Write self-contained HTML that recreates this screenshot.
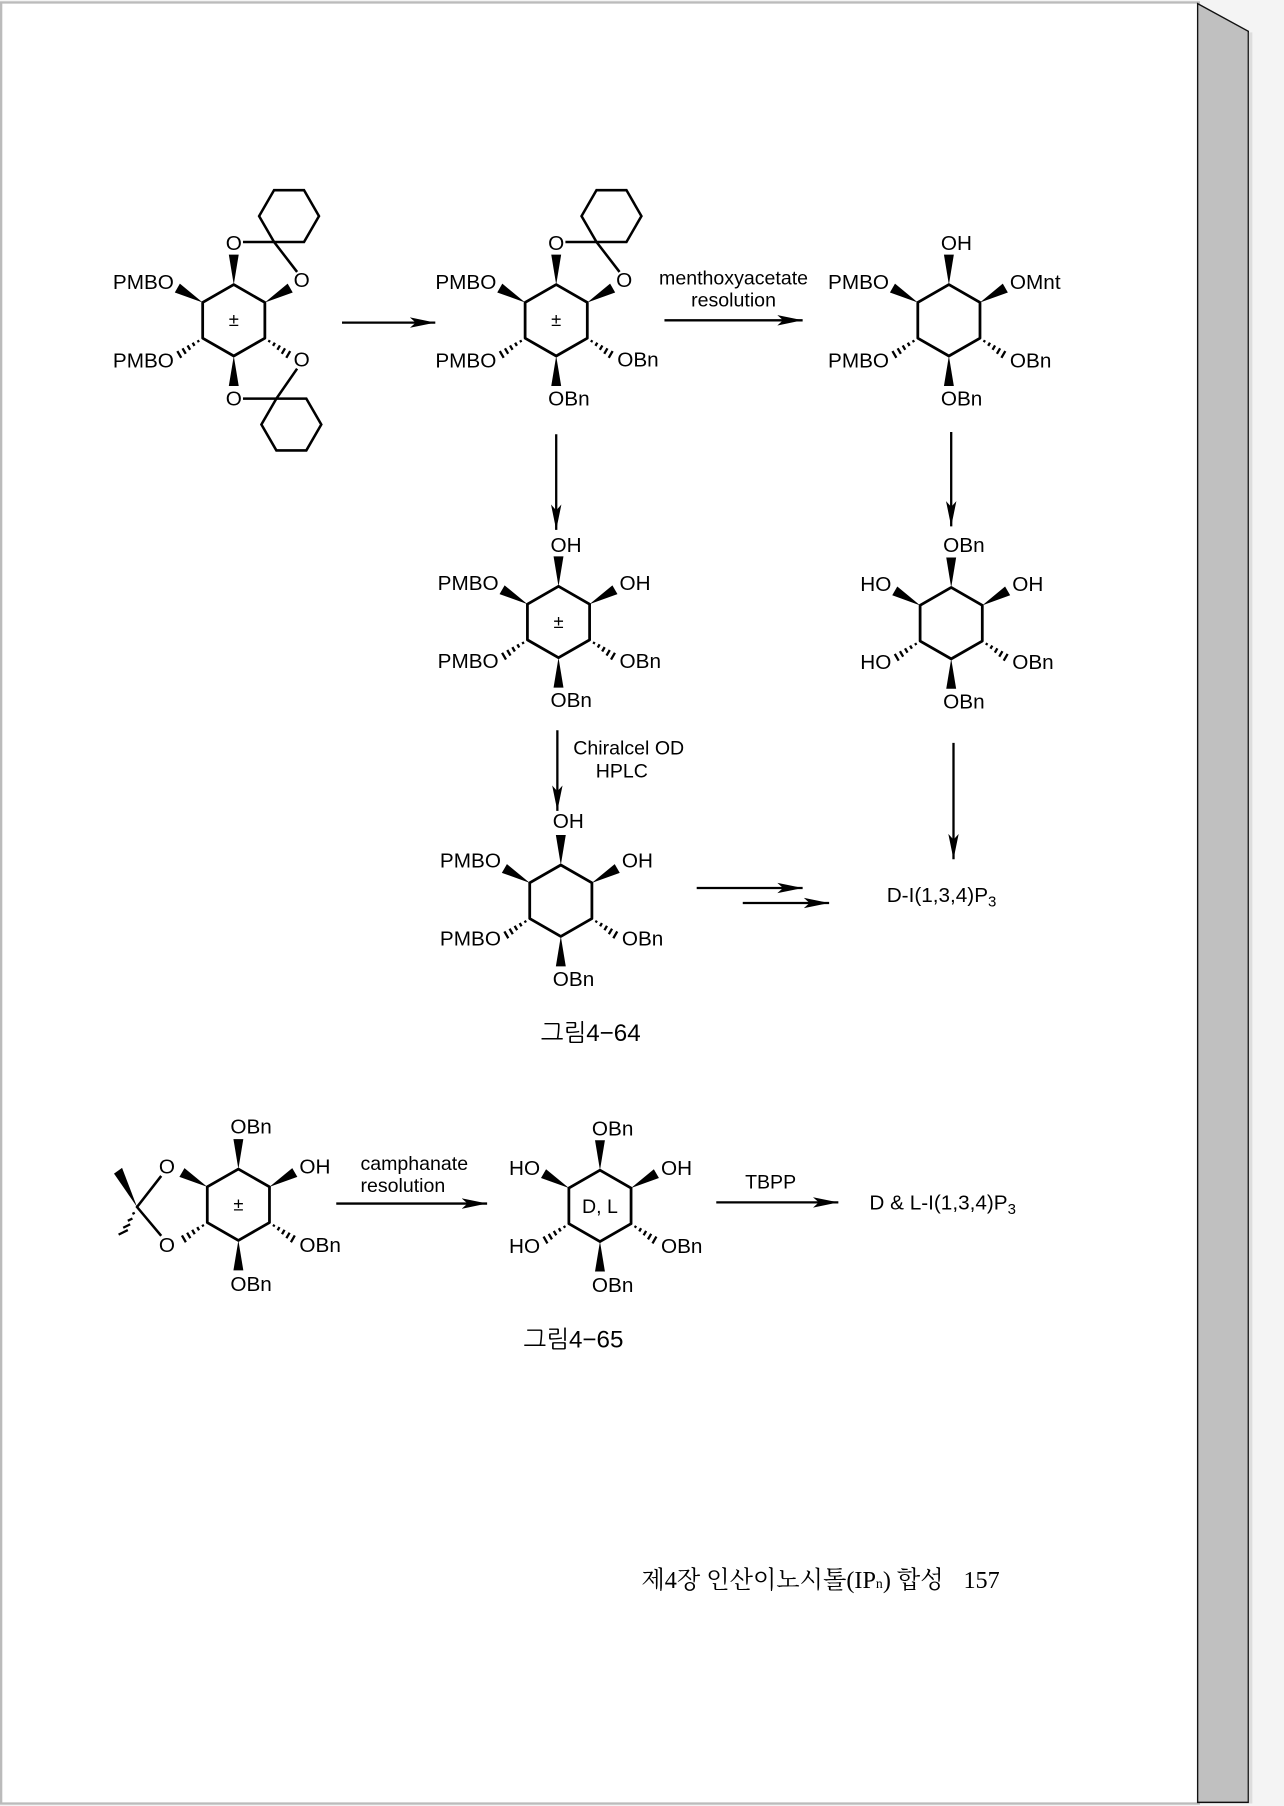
<!DOCTYPE html>
<html><head><meta charset="utf-8">
<style>
html,body{margin:0;padding:0;background:#f4f4f4;}
svg{display:block;}
text{font-family:"Liberation Sans","NanumGothic",sans-serif;fill:#000;}
</style></head>
<body>
<svg width="1284" height="1806" viewBox="0 0 1115 1568" xmlns="http://www.w3.org/2000/svg">
<defs>
<polygon id="ring" points="0,-31 27,-15.5 27,15.5 0,31 -27,15.5 -27,-15.5" fill="none" stroke="#000" stroke-width="2.4" stroke-linejoin="round"/>
<polygon id="wT" points="0,-31 -4.3,-57 4.3,-57" fill="#000"/>
<polygon id="wB" points="0,31 -4.3,57 4.3,57" fill="#000"/>
<polygon id="wUR" points="27,-15.5 51.2,-24.2 46.8,-31.8" fill="#000"/>
<polygon id="wUL" points="-27,-15.5 -51.2,-24.2 -46.8,-31.8" fill="#000"/>
<path id="hLL" d="M-31.3,17.3L-30.3,19M-35.7,19.4L-34.1,22.2M-40.1,21.8L-37.9,25.6M-44.5,24.3L-41.7,29.1M-49,26.7L-45.6,32.6" stroke="#000" stroke-width="2" fill="none"/>
<path id="hLR" d="M31.3,17.3L30.3,19M35.7,19.4L34.1,22.2M40.1,21.8L37.9,25.6M44.5,24.3L41.7,29.1M49,26.7L45.6,32.6" stroke="#000" stroke-width="2" fill="none"/>
<g id="topspiro" fill="none" stroke="#000" stroke-width="2.2">
<path d="M8,-68L35,-68L55,-42"/>
<polygon points="35,-68 61,-68 74,-90.5 61,-113 35,-113 22,-90.5"/>
</g>
<g id="botspiro" fill="none" stroke="#000" stroke-width="2.2">
<path d="M8,68L37,68L55,42"/>
<polygon points="37,68 24,90.5 37,113 63,113 76,90.5 63,68"/>
</g>
<marker id="ah" markerWidth="24" markerHeight="12" refX="22" refY="6" orient="auto" markerUnits="userSpaceOnUse">
<path d="M0,1.5L22,6L0,10.5L5,6Z" fill="#000"/>
</marker>
</defs>

<rect x="0" y="0" width="1115" height="1568" fill="#f4f4f4"/>
<rect x="1" y="2" width="1040" height="1564" fill="#fff" stroke="#bbb" stroke-width="2"/>
<polygon points="1040,3 1084,27 1084,1565 1040,1565" fill="#c0c0c0" stroke="#111" stroke-width="1.2"/>
<line x1="1086" y1="28" x2="1086" y2="1566" stroke="#ddd" stroke-width="3"/>

<g font-size="18">
<g transform="translate(203,278)">
<use href="#ring"/><use href="#wT"/><use href="#wB"/><use href="#wUR"/><use href="#wUL"/><use href="#hLL"/><use href="#hLR"/>
<use href="#topspiro"/><use href="#botspiro"/>
<text x="0" y="-61" text-anchor="middle">O</text>
<text x="0" y="74" text-anchor="middle">O</text>
<text x="59" y="-29" text-anchor="middle">O</text>
<text x="59" y="40" text-anchor="middle">O</text>
<text x="-52" y="-27" text-anchor="end">PMBO</text>
<text x="-52" y="41" text-anchor="end">PMBO</text>
<text x="0" y="5" text-anchor="middle" font-size="16">±</text>
</g>
<g transform="translate(483,278)">
<use href="#ring"/><use href="#wT"/><use href="#wB"/><use href="#wUR"/><use href="#wUL"/><use href="#hLL"/><use href="#hLR"/>
<use href="#topspiro"/>
<text x="0" y="-61" text-anchor="middle">O</text>
<text x="59" y="-29" text-anchor="middle">O</text>
<text x="-7" y="74">OBn</text>
<text x="53" y="40">OBn</text>
<text x="-52" y="-27" text-anchor="end">PMBO</text>
<text x="-52" y="41" text-anchor="end">PMBO</text>
<text x="0" y="5" text-anchor="middle" font-size="16">±</text>
</g>
<g transform="translate(824,278)">
<use href="#ring"/><use href="#wT"/><use href="#wB"/><use href="#wUR"/><use href="#wUL"/><use href="#hLL"/><use href="#hLR"/>
<text x="-7" y="-61">OH</text>
<text x="-7" y="74">OBn</text>
<text x="53" y="-27">OMnt</text>
<text x="53" y="41">OBn</text>
<text x="-52" y="-27" text-anchor="end">PMBO</text>
<text x="-52" y="41" text-anchor="end">PMBO</text>
</g>
<g transform="translate(485,540)">
<use href="#ring"/><use href="#wT"/><use href="#wB"/><use href="#wUR"/><use href="#wUL"/><use href="#hLL"/><use href="#hLR"/>
<text x="-7" y="-61">OH</text>
<text x="-7" y="74">OBn</text>
<text x="53" y="-28">OH</text>
<text x="53" y="40">OBn</text>
<text x="-52" y="-28" text-anchor="end">PMBO</text>
<text x="-52" y="40" text-anchor="end">PMBO</text>
<text x="0" y="5" text-anchor="middle" font-size="16">±</text>
</g>
<g transform="translate(826,541)">
<use href="#ring"/><use href="#wT"/><use href="#wB"/><use href="#wUR"/><use href="#wUL"/><use href="#hLL"/><use href="#hLR"/>
<text x="-7" y="-62">OBn</text>
<text x="-7" y="74">OBn</text>
<text x="53" y="-28">OH</text>
<text x="53" y="40">OBn</text>
<text x="-52" y="-28" text-anchor="end">HO</text>
<text x="-52" y="40" text-anchor="end">HO</text>
</g>
<g transform="translate(487,782)">
<use href="#ring"/><use href="#wT"/><use href="#wB"/><use href="#wUR"/><use href="#wUL"/><use href="#hLL"/><use href="#hLR"/>
<text x="-7" y="-63">OH</text>
<text x="-7" y="74">OBn</text>
<text x="53" y="-29">OH</text>
<text x="53" y="39">OBn</text>
<text x="-52" y="-29" text-anchor="end">PMBO</text>
<text x="-52" y="39" text-anchor="end">PMBO</text>
</g>
<g transform="translate(207,1046)">
<use href="#ring"/><use href="#wT"/><use href="#wB"/><use href="#wUR"/><use href="#wUL"/><use href="#hLL"/><use href="#hLR"/>
<text x="-7" y="-62">OBn</text>
<text x="-7" y="75">OBn</text>
<text x="53" y="-27">OH</text>
<text x="53" y="41">OBn</text>
<text x="-62" y="-27" text-anchor="middle">O</text>
<text x="-62" y="41" text-anchor="middle">O</text>
<path d="M-67,-25L-88,2L-67,27" fill="none" stroke="#000" stroke-width="2.2"/>
<polygon points="-88,2 -108,-27 -101,-32" fill="#000"/>
<path d="M-92,8L-90,7M-96,14L-92,12M-100,20L-94,17M-104,26L-96,22" stroke="#000" stroke-width="2"/>
<text x="0" y="5" text-anchor="middle" font-size="16">±</text>
</g>
<g transform="translate(521,1047)">
<use href="#ring"/><use href="#wT"/><use href="#wB"/><use href="#wUR"/><use href="#wUL"/><use href="#hLL"/><use href="#hLR"/>
<text x="-7" y="-61">OBn</text>
<text x="-7" y="75">OBn</text>
<text x="53" y="-27">OH</text>
<text x="53" y="41">OBn</text>
<text x="-52" y="-27" text-anchor="end">HO</text>
<text x="-52" y="41" text-anchor="end">HO</text>
<text x="0" y="6" text-anchor="middle" font-size="17">D, L</text>
</g>
</g>

<g stroke="#000" stroke-width="2" fill="none" marker-end="url(#ah)">
<line x1="297" y1="280" x2="378" y2="280"/>
<line x1="577" y1="278" x2="697" y2="278"/>
<line x1="483" y1="377" x2="483" y2="460"/>
<line x1="826" y1="375" x2="826" y2="457"/>
<line x1="484" y1="634" x2="484" y2="704"/>
<line x1="828" y1="645" x2="828" y2="746"/>
<line x1="605" y1="771" x2="697" y2="771"/>
<line x1="645" y1="784" x2="720" y2="784"/>
<line x1="292" y1="1045" x2="423" y2="1045"/>
<line x1="622" y1="1044" x2="728" y2="1044"/>
</g>

<g font-size="17">
<text x="637" y="247" text-anchor="middle">menthoxyacetate</text>
<text x="637" y="266" text-anchor="middle">resolution</text>
<text x="546" y="655" text-anchor="middle">Chiralcel OD</text>
<text x="540" y="675" text-anchor="middle">HPLC</text>
<text x="313" y="1016">camphanate</text>
<text x="313" y="1035">resolution</text>
<text x="647" y="1032">TBPP</text>
</g>
<g font-size="18">
<text x="770" y="783">D-I(1,3,4)P<tspan font-size="13" dy="4">3</tspan></text>
<text x="755" y="1050">D &amp; L-I(1,3,4)P<tspan font-size="13" dy="4">3</tspan></text>
</g>
<text x="513" y="904" text-anchor="middle" font-size="21" style="font-family:'Liberation Sans','NanumGothic','Noto Sans CJK KR',sans-serif">그림4−64</text>
<text x="498" y="1170" text-anchor="middle" font-size="21" style="font-family:'Liberation Sans','NanumGothic','Noto Sans CJK KR',sans-serif">그림4−65</text>
<text x="557" y="1379" font-size="21" style="font-family:'Liberation Serif','Noto Serif CJK SC','NanumGothic',serif">제4장 인산이노시톨(IP<tspan font-size="12">n</tspan>) 합성 <tspan dx="12">157</tspan></text>
</svg>
</body></html>
